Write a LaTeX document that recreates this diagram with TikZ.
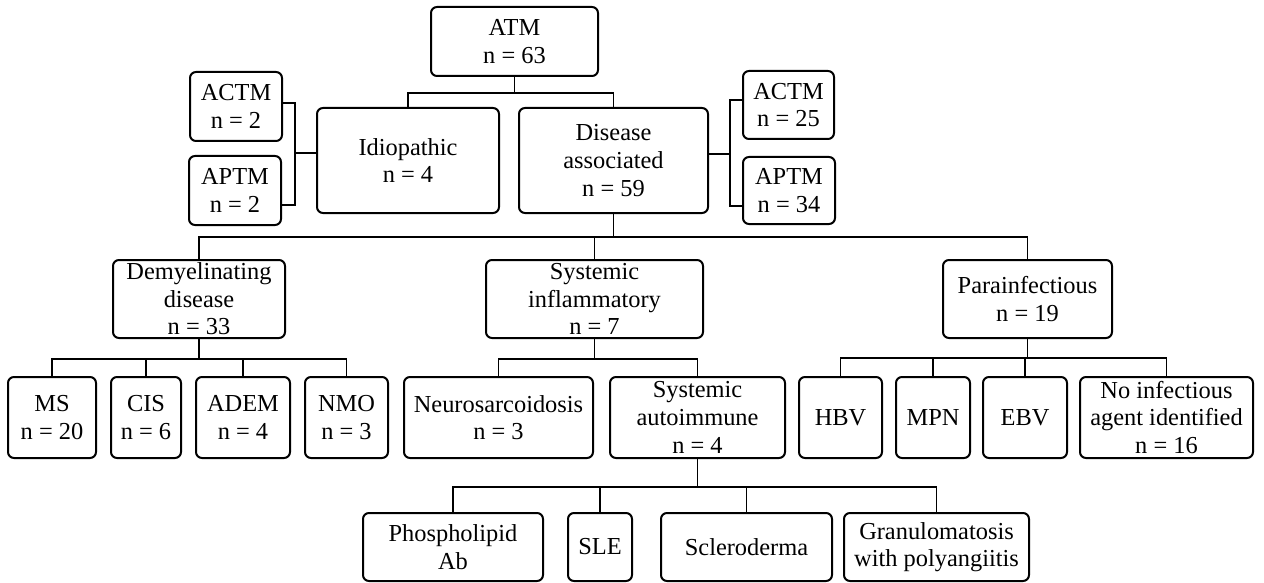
\documentclass[tikz,border=0pt]{standalone}
\usepackage{fontspec}
\setmainfont{Liberation Serif}
\usepackage{tikz}

\tikzset{
  box/.style={draw, line width=1pt, rounded corners=3pt, align=center,
    inner sep=0pt, font=\fontsize{12.2}{13.8}\selectfont},
  link/.style={line width=0.95pt}
}

\begin{document}
\begin{tikzpicture}[x=0.5pt,y=-0.5pt]
    \useasboundingbox (0,0) rectangle (1264,583);
    %
    \node[box,minimum width=83.5pt,minimum height=34.5pt] (atm) at (514.5,41.5) {ATM\\n = 63};
    \node[box,minimum width=91pt,minimum height=52.5pt] (idio) at (408,160.5) {Idiopathic\\n = 4};
    \node[box,minimum width=94.5pt,minimum height=52.5pt] (disease) at (613.5,160.5) {Disease\\associated\\n = 59};
    \node[box,minimum width=46pt,minimum height=34.5pt] (actmL) at (236,106.5) {ACTM\\n = 2};
    \node[box,minimum width=46pt,minimum height=34.5pt] (aptmL) at (235,190.5) {APTM\\n = 2};
    \node[box,minimum width=45.5pt,minimum height=34pt] (actmR) at (788.5,105) {ACTM\\n = 25};
    \node[box,minimum width=46pt,minimum height=33.5pt] (aptmR) at (789,190.5) {APTM\\n = 34};
    %
    \node[box,minimum width=86pt,minimum height=39pt] (demy) at (199,299) {Demyelinating\\disease\\n = 33};
    \node[box,minimum width=108.5pt,minimum height=39pt] (sysinf) at (594.5,299) {Systemic\\inflammatory\\n = 7};
    \node[box,minimum width=84.5pt,minimum height=39pt] (parainf) at (1027.5,299) {Parainfectious\\n = 19};
    %
    \node[box,minimum width=44pt,minimum height=40.5pt] (ms) at (52,417.5) {MS\\n = 20};
    \node[box,minimum width=35pt,minimum height=40.5pt] (cis) at (146,417.5) {CIS\\n = 6};
    \node[box,minimum width=47pt,minimum height=40.5pt] (adem) at (243,417.5) {ADEM\\n = 4};
    \node[box,minimum width=41.5pt,minimum height=40.5pt] (nmo) at (346.5,417.5) {NMO\\n = 3};
    \node[box,minimum width=94.5pt,minimum height=40.5pt] (neuro) at (498.5,417.5) {Neurosarcoidosis\\n = 3};
    \node[box,minimum width=87.5pt,minimum height=40.5pt] (sysauto) at (697.5,417.5) {Systemic\\autoimmune\\n = 4};
    \node[box,minimum width=41.5pt,minimum height=40.5pt] (hbv) at (840.5,417.5) {HBV};
    \node[box,minimum width=37pt,minimum height=40.5pt] (mpn) at (933,417.5) {MPN};
    \node[box,minimum width=42pt,minimum height=40.5pt] (ebv) at (1025,417.5) {EBV};
    \node[box,minimum width=86.5pt,minimum height=40.5pt] (noinf) at (1166.5,417.5) {No infectious\\agent identified\\n = 16};
    %
    \node[box,minimum width=90pt,minimum height=34pt] (phos) at (453,547) {Phospholipid\\Ab};
    \node[box,minimum width=32pt,minimum height=34pt] (sle) at (600,547) {SLE};
    \node[box,minimum width=85.5pt,minimum height=34pt] (sclero) at (746.5,547) {Scleroderma};
    \node[box,minimum width=92.5pt,minimum height=34pt] (granulo) at (936.5,547) {Granulomatosis\\with polyangiitis};
    %
    \foreach \c in {idio,disease}
      \draw[link] (atm.south) -- ++(0,16) -| (\c.north);
    \draw[link] ([yshift=3.75pt]idio.west) -- ++(-21,0) coordinate (brkL);
    \draw[link] ([yshift=1.75pt]actmL.east) -| (brkL) |- ([yshift=-7.25pt]aptmL.east);
    \draw[link] ([yshift=3.25pt]disease.east) -- ++(21,0) coordinate (brkR);
    \draw[link] ([yshift=2.5pt]actmR.west) -| (brkR) |- ([yshift=-7.75pt]aptmR.west);
    %
    \foreach \c in {demy,sysinf,parainf}
      \draw[link] (disease.south) -- ++(0,23) -| (\c.north);
    \foreach \c in {ms,cis,adem,nmo}
      \draw[link] (demy.south) -- ++(0,20) -| (\c.north);
    \foreach \c in {neuro,sysauto}
      \draw[link] (sysinf.south) -- ++(0,20) -| (\c.north);
    \foreach \c in {hbv,mpn,ebv,noinf}
      \draw[link] (parainf.south) -- ++(0,19) -| (\c.north);
    \foreach \c in {phos,sle,sclero,granulo}
      \draw[link] (sysauto.south) -- ++(0,28) -| (\c.north);
\end{tikzpicture}
\end{document}
